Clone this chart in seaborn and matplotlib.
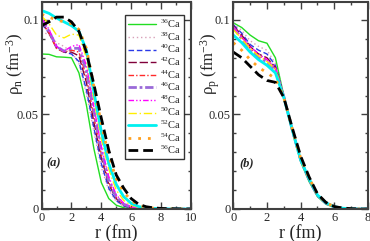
import matplotlib
matplotlib.use('Agg')
import matplotlib.pyplot as plt
import seaborn as sns
import numpy as np
from matplotlib.ticker import MultipleLocator

# radial grid (fm)
r_n = [0, 0.5, 1, 1.5, 2, 2.5, 3, 3.5, 4, 4.5, 5, 5.5, 6, 6.5, 7, 7.5, 8, 9, 10]
r_p = [0, 0.5, 1, 1.5, 2, 2.5, 3, 3.5, 4, 4.5, 5, 5.5, 6, 6.5, 7, 7.5, 8]

isotopes = ['36', '38', '40', '42', '44', '46', '48', '50', '52', '54', '56']

# neutron densities (fm^-3)
rho_n = {
    '36': [.082, .0818, .0805, .0803, .0800, .072, .055, .032, .014, .0055, .002, .0007, .0002, 0, 0, 0, 0, 0, 0],
    '38': [.094, .092, .088, .086, .083, .077, .061, .041, .022, .010, .004, .0014, .0004, .0001, 0, 0, 0, 0, 0],
    '40': [.098, .093, .086, .083, .082, .078, .063, .043, .024, .011, .0045, .0016, .0005, .0001, 0, 0, 0, 0, 0],
    '42': [.099, .093, .085, .083, .083, .081, .067, .046, .027, .013, .0055, .002, .0007, .0002, 0, 0, 0, 0, 0],
    '44': [.099, .093, .085, .083, .084, .083, .070, .049, .029, .014, .006, .0022, .0008, .0002, 0, 0, 0, 0, 0],
    '46': [.100, .094, .086, .0835, .085, .085, .073, .052, .031, .015, .0065, .0025, .001, .0003, 0, 0, 0, 0, 0],
    '48': [.101, .095, .086, .0835, .086, .087, .076, .054, .033, .017, .0075, .003, .0012, .0004, .0001, 0, 0, 0, 0],
    '50': [.102, .098, .092, .0905, .0925, .092, .080, .058, .037, .021, .010, .0045, .002, .0008, .0003, .0001, 0, 0, 0],
    '52': [.105, .1035, .101, .099, .097, .094, .084, .062, .041, .024, .013, .0065, .003, .0013, .0006, .0003, .0001, 0, 0],
    '54': [.103, .1015, .100, .099, .098, .095, .085, .065, .045, .028, .016, .009, .0045, .002, .0009, .0004, .0002, 0, 0],
    '56': [.097, .099, .1015, .1015, .099, .094, .083, .066, .048, .031, .018, .011, .0055, .0025, .0012, .0006, .0003, .0001, 0],
}

# proton densities (fm^-3)
rho_p = {
    '36': [.0985, .096, .092, .089, .0877, .080, .060, .041, .025, .0145, .0065, .0025, .0008, .0002, 0, 0, 0],
    '38': [.098, .0945, .089, .086, .084, .077, .060, .042, .026, .0150, .0068, .0028, .0009, .0003, .0001, 0, 0],
    '40': [.0975, .093, .087, .084, .082, .076, .060, .042, .026, .0152, .0069, .0029, .0010, .0003, .0001, 0, 0],
    '42': [.097, .092, .086, .082, .080, .075, .060, .042, .026, .0154, .0070, .0030, .0010, .0003, .0001, 0, 0],
    '44': [.0965, .091, .085, .081, .079, .074, .0595, .042, .026, .0155, .0070, .0030, .0010, .0003, .0001, 0, 0],
    '46': [.096, .090, .084, .080, .078, .0735, .0595, .042, .026, .0156, .0071, .0031, .0011, .0003, .0001, 0, 0],
    '48': [.096, .091, .086, .082, .079, .075, .0595, .042, .026, .0157, .0072, .0031, .0011, .0003, .0001, 0, 0],
    '50': [.095, .090, .085, .081, .078, .074, .0595, .042, .026, .0158, .0073, .0032, .0011, .0004, .0001, 0, 0],
    '52': [.092, .088, .083, .079, .076, .072, .059, .042, .026, .0160, .0074, .0033, .0012, .0004, .0001, 0, 0],
    '54': [.088, .084, .079, .075, .072, .069, .059, .0425, .027, .0165, .0077, .0034, .0012, .0004, .0001, 0, 0],
    '56': [.083, .080, .0755, .071, .068, .067, .059, .043, .028, .017, .008, .0035, .0013, .0005, .0002, 0, 0],
}

styles = {
    '36': dict(color='#22dd22', lw=1.0, dashes=None),
    '38': dict(color='#d8a0b8', lw=1.0, dashes=(1, 2)),
    '40': dict(color='#2a3ae8', lw=1.0, dashes=(4, 2)),
    '42': dict(color='#80003a', lw=1.0, dashes=(6, 2)),
    '44': dict(color='#ff2a2a', lw=1.0, dashes=(4, 1.5, 1, 1.5)),
    '46': dict(color='#9a6ad8', lw=2.0, dashes=(3, 1, 1, 1)),
    '48': dict(color='#ff00ff', lw=1.0, dashes=(4, 1.5, 1, 1.5, 1, 1.5)),
    '50': dict(color='#ffee00', lw=1.0, dashes=(6, 2, 1, 2)),
    '52': dict(color='#00f0f0', lw=2.0, dashes=None),
    '54': dict(color='#ffa020', lw=2.0, dashes=(1, 2.5)),
    '56': dict(color='#000000', lw=2.0, dashes=(3.5, 1.8)),
}

sns.set_style('ticks')
plt.rcParams['font.family'] = ['Liberation Serif', 'DejaVu Serif']
plt.rcParams['mathtext.fontset'] = 'custom'
plt.rcParams['mathtext.rm'] = 'Liberation Serif'
plt.rcParams['mathtext.it'] = 'Liberation Serif:italic'

fig = plt.figure(figsize=(3.7, 2.41), dpi=100)
ax1 = fig.add_axes([0.1124, 0.1328, 0.4036, 0.8589])
ax2 = fig.add_axes([0.6305, 0.1328, 0.3641, 0.8589])


def draw(ax, r, data, xmax, xlabel_ticks, ylab, tag, ylab_x):
    for iso in isotopes:
        st = styles[iso]
        sns.lineplot(x=r, y=data[iso], ax=ax, color=st['color'], lw=st['lw'],
                     label=r'$^{\mathrm{%s}}$Ca' % iso, legend=False)
        ln = ax.get_lines()[-1]
        if st['dashes'] is not None:
            ln.set_dashes(st['dashes'])
    ax.set_xlim(0, xmax)
    ax.set_ylim(0, 0.1095)
    ax.set_xticks(xlabel_ticks, [str(t) for t in xlabel_ticks])
    ax.set_yticks([0, 0.05, 0.1], ['0', '0.05', '0.1'])
    ax.xaxis.set_minor_locator(MultipleLocator(1))
    ax.yaxis.set_minor_locator(MultipleLocator(0.01))
    ax.tick_params(which='both', direction='in', top=True, right=True,
                   labelsize=9, pad=2, color='#404040')
    ax.tick_params(which='major', length=5, width=1)
    ax.tick_params(which='minor', length=2.5, width=1)
    for sp in ax.spines.values():
        sp.set_color('#404040')
        sp.set_linewidth(1.5)
    ax.set_xlabel('r (fm)', fontsize=13, labelpad=0)
    ax.set_ylabel(ylab, fontsize=12)
    ax.yaxis.set_label_coords(ylab_x, 0.70)
    ax.text(0.35, 0.024, tag, fontsize=9, fontweight='bold', fontstyle='italic',
            va='center', ha='left')


draw(ax1, r_n, rho_n, 10, [0, 2, 4, 6, 8, 10], r'ρ$_{\mathrm{n}}$ (fm$^{-3}$)', '(a)', -0.104)
draw(ax2, r_p, rho_p, 8, [0, 2, 4, 6, 8], r'ρ$_{\mathrm{p}}$ (fm$^{-3}$)', '(b)', -0.084)

leg = ax1.legend(loc='upper right', bbox_to_anchor=(0.953, 0.937), borderaxespad=0,
                 fontsize=7.6, frameon=True, fancybox=False, edgecolor='black',
                 handlelength=2.7, handletextpad=0.35, labelspacing=0.02,
                 borderpad=0.25)
leg.get_frame().set_linewidth(1.0)

fig.savefig('out.png', dpi=100)
